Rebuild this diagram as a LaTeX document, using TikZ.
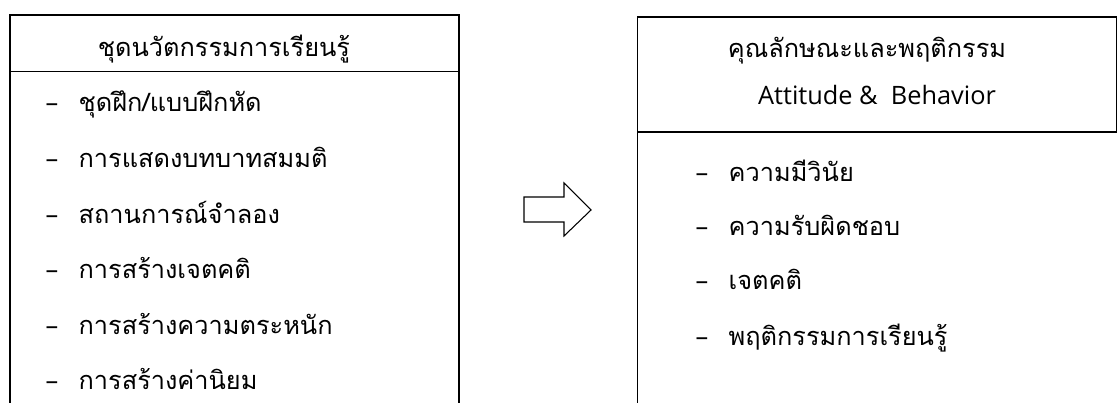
\documentclass[tikz,border=0pt]{standalone}
\usepackage{fontspec}
\setmainfont{Open Sans}
\newfontfamily\thaifont[Script=Thai]{Loma}
\usetikzlibrary{positioning}

\begin{document}
\begin{tikzpicture}[x=0.75pt, y=-0.75pt, line width=1pt,
    head/.style={anchor=base, inner sep=0pt, font=\fontsize{19}{22}\selectfont},
    item/.style={anchor=base west, inner sep=0pt, font=\fontsize{19}{22}\selectfont}]
        \useasboundingbox (0,0) rectangle (1117,403);

        % Left box
        \draw (10,403) -- (10,15) -- (459,15) -- (459,403);
        \draw (10,71.5) -- (459,71.5);
        \node[head] (lhead) at (224,57) {\thaifont ชุดนวัตกรรมการเรียนรู้};

        % Left items
        \node[item] (l1) at (45,112) {\makebox[24.75pt][l]{–}\thaifont ชุดฝึก/แบบฝึกหัด};
        \node[item] (l2) at (45,167.5) {\makebox[24.75pt][l]{–}\thaifont การแสดงบทบาทสมมติ};
        \node[item] (l3) at (45,223) {\makebox[24.75pt][l]{–}\thaifont สถานการณ์จำลอง};
        \node[item] (l4) at (45,278.5) {\makebox[24.75pt][l]{–}\thaifont การสร้างเจตคติ};
        \node[item] (l5) at (45,334) {\makebox[24.75pt][l]{–}\thaifont การสร้างความตระหนัก};
        \node[item] (l6) at (45,389) {\makebox[24.75pt][l]{–}\thaifont การสร้างค่านิยม};

        % Arrow
        \draw[line width=0.8pt] (524,197) -- (564,197) -- (564,183) -- (591,210)
            -- (564,236) -- (564,222) -- (524,222) -- cycle;

        % Right box
        \draw (637.5,403) -- (637.5,17) -- (1116.5,17) -- (1116.5,132);
        \draw (637.5,132) -- (1117,132);
        \node[head] (rhead) at (867,58) {\thaifont คุณลักษณะและพฤติกรรม};
        \node[head] (rsub) at (877,104) {Attitude \&\ \ Behavior};

        % Right items
        \node[item] (r1) at (695,181) {\makebox[24.75pt][l]{–}\thaifont ความมีวินัย};
        \node[item] (r2) at (695,235) {\makebox[24.75pt][l]{–}\thaifont ความรับผิดชอบ};
        \node[item] (r3) at (695,289) {\makebox[24.75pt][l]{–}\thaifont เจตคติ};
        \node[item] (r4) at (695,345) {\makebox[24.75pt][l]{–}\thaifont พฤติกรรมการเรียนรู้};
    \end{tikzpicture}
\end{document}
